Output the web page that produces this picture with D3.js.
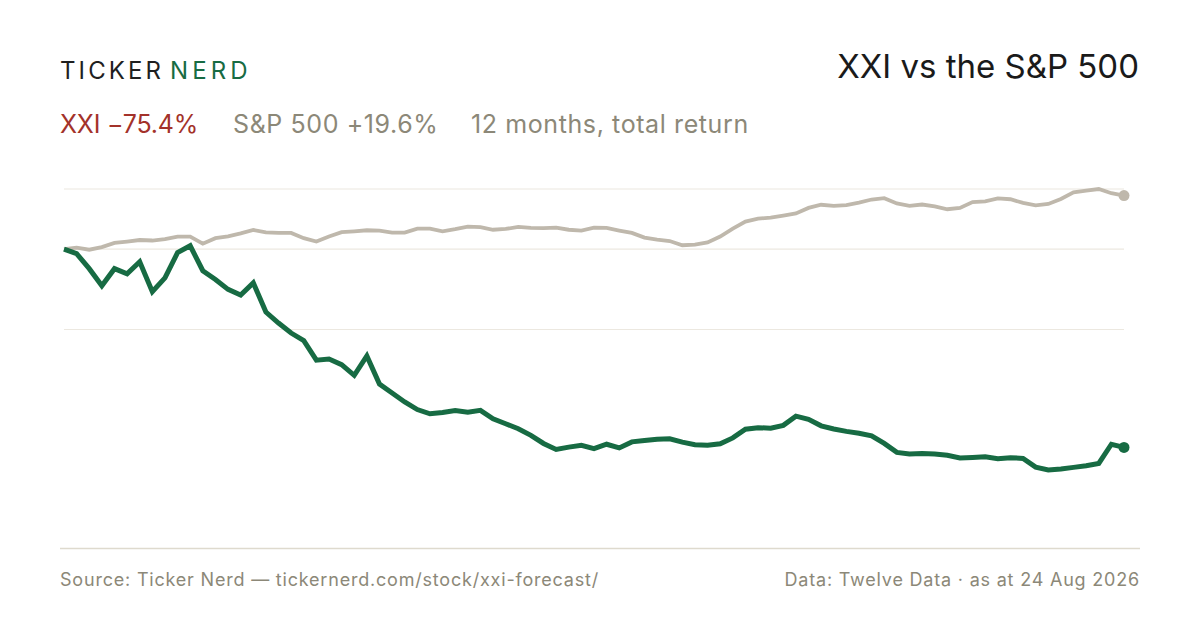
<!DOCTYPE html>
<html>
<head>
<meta charset="utf-8">
<script src="https://cdn.jsdelivr.net/npm/d3@7"></script>
<style>
  html, body { margin: 0; padding: 0; background: #fff; }
  svg { display: block; font-family: Inter, "Noto Sans", sans-serif; }
</style>
</head>
<body>
<script>
// total return since start, in %, one point every ~3 trading days
const xxiReturn = [
  0, -1.7, -7.4, -13.9, -7.4, -9.4, -4.8, -16.2, -10.9, -1.3,
  1.3, -8.2, -11.5, -15.3, -17.4, -12.8, -23.9, -28.1, -31.9, -34.8,
  -42.2, -41.8, -43.9, -48.0, -40.6, -51.3, -54.7, -58.1, -61.0, -62.6,
  -62.1, -61.4, -62.0, -61.3, -64.5, -66.4, -68.3, -70.8, -73.9, -76.2,
  -75.3, -74.6, -75.9, -74.2, -75.6, -73.3, -72.8, -72.3, -72.1, -73.4,
  -74.4, -74.6, -74.0, -71.8, -68.5, -67.9, -68.1, -67.0, -63.5, -64.7,
  -67.2, -68.4, -69.3, -70.0, -71.0, -73.9, -77.3, -77.9, -77.7, -77.9,
  -78.4, -79.4, -79.2, -79.0, -79.7, -79.3, -79.6, -82.9, -84.0, -83.6,
  -83.0, -82.4, -81.5, -74.2, -75.4
];
const spxReturn = [
  0, 0.6, -0.2, 0.8, 2.4, 2.9, 3.5, 3.3, 3.8, 4.8,
  4.8, 2.1, 4.2, 4.9, 6.0, 7.3, 6.4, 6.2, 6.2, 4.2,
  2.9, 4.8, 6.5, 6.8, 7.2, 7.1, 6.3, 6.3, 7.8, 7.8,
  6.8, 7.6, 8.6, 8.4, 7.4, 7.7, 8.5, 8.1, 8.0, 8.2,
  7.4, 7.1, 8.2, 8.1, 7.1, 6.2, 4.4, 3.6, 3.1, 1.5,
  1.7, 2.6, 4.8, 7.8, 10.5, 11.6, 12.0, 12.8, 13.6, 15.7,
  16.9, 16.5, 16.8, 17.7, 18.9, 19.4, 17.4, 16.5, 17.0, 16.3,
  15.2, 15.7, 17.9, 18.2, 19.3, 19.0, 17.6, 16.7, 17.2, 19.1,
  21.6, 22.3, 22.9, 21.3, 20.4
];

const logoWords = ["TICKER", "NERD"];
const title = "XXI vs the S&P 500";
const summary = [
  { text: "XXI \u221275.4%", color: "#a3322a", x: 60 },
  { text: "S&P 500 +19.6%", color: "#8c8878", x: 233 },
  { text: "12 months, total return", color: "#8c8878", x: 471 }
];
const sourceText = "Source: Ticker Nerd \u2014 tickernerd.com/stock/xxi-forecast/";
const dataText = "Data: Twelve Data \u00b7 as at 24 Aug 2026";

const W = 1200, H = 630;
const green = "#176b43";
const sand = "#bfb8ac";

const svg = d3.select("body").append("svg")
  .attr("width", W)
  .attr("height", H);

// header
const logo = svg.append("text")
  .attr("x", 60).attr("y", 79)
  .attr("font-size", 24)
  .attr("letter-spacing", "0.13em");
logo.append("tspan").attr("fill", "#1f1f1f").text(logoWords[0]);
logo.append("tspan").attr("fill", green).attr("x", 170)
  .attr("letter-spacing", "0.17em").text(logoWords[1]);

svg.append("text")
  .attr("x", 1139).attr("y", 78)
  .attr("text-anchor", "end")
  .attr("font-size", 33)
  .attr("fill", "#1a1a1a")
  .text(title);

svg.append("g")
  .selectAll("text")
  .data(summary)
  .join("text")
  .attr("x", d => d.x).attr("y", 133)
  .attr("font-size", 25)
  .attr("letter-spacing", (d, i) => i === 0 ? "-0.2px" : "0.6px")
  .attr("fill", d => d.color)
  .text(d => d.text);

// chart area
const x = d3.scaleLinear()
  .domain([0, xxiReturn.length - 1])
  .range([64, 1124]);

const lo = d3.min(xxiReturn.concat(spxReturn));
const hi = d3.max(xxiReturn.concat(spxReturn));
const y = d3.scaleLinear()
  .domain([lo, hi])
  .range([470, 189]);

const gridValues = [hi, 0, (hi + lo) / 2];

svg.append("g")
  .selectAll("line")
  .data(gridValues)
  .join("line")
  .attr("x1", 64).attr("x2", 1124)
  .attr("y1", d => y(d)).attr("y2", d => y(d))
  .attr("stroke", "#ece8e0")
  .attr("stroke-width", 1.2);

const line = d3.line()
  .x((d, i) => x(i))
  .y(d => y(d));

svg.append("path")
  .attr("d", line(spxReturn))
  .attr("fill", "none")
  .attr("stroke", sand)
  .attr("stroke-width", 3.8);

svg.append("path")
  .attr("d", line(xxiReturn))
  .attr("fill", "none")
  .attr("stroke", green)
  .attr("stroke-width", 5);

const last = xxiReturn.length - 1;
svg.append("circle")
  .attr("cx", x(last)).attr("cy", y(spxReturn[last]))
  .attr("r", 5.5).attr("fill", sand);
svg.append("circle")
  .attr("cx", x(last)).attr("cy", y(xxiReturn[last]))
  .attr("r", 5.5).attr("fill", green);

// footer
svg.append("line")
  .attr("x1", 60).attr("x2", 1140)
  .attr("y1", 548.5).attr("y2", 548.5)
  .attr("stroke", "#dedace")
  .attr("stroke-width", 1.5);

svg.append("text")
  .attr("x", 60).attr("y", 586)
  .attr("font-size", 18)
  .attr("letter-spacing", "0.8px")
  .attr("fill", "#8c8878")
  .text(sourceText);

svg.append("text")
  .attr("x", 1140).attr("y", 586)
  .attr("text-anchor", "end")
  .attr("font-size", 18)
  .attr("letter-spacing", "0.8px")
  .attr("fill", "#8c8878")
  .text(dataText);
</script>
</body>
</html>
